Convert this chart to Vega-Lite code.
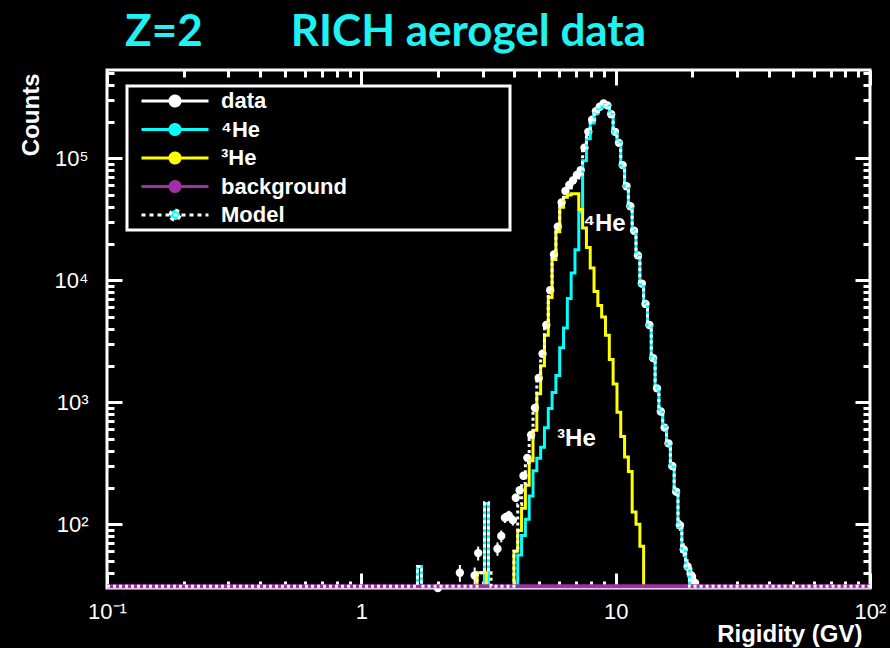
{
  "$schema": "https://vega.github.io/schema/vega-lite/v6.json",
  "width": 763,
  "height": 518,
  "autosize": {"type": "none"},
  "padding": {"left": 107, "top": 70, "right": 20, "bottom": 60},
  "background": "black",
  "title": {
    "text": "Z=2\u2003\u2003\u2002RICH aerogel data",
    "anchor": "start",
    "frame": "group",
    "dx": 18,
    "dy": 52,
    "offset": 24,
    "baseline": "alphabetic",
    "font": "Lato",
    "fontSize": 44,
    "fontWeight": "bold",
    "color": "#1ef2f2"
  },
  "config": {
    "view": {"stroke": "white", "strokeWidth": 3},
    "font": "Liberation Sans",
    "legend": {"strokeWidth": 3}
  },
  "datasets": {
    "he4": [
      {"g": 1, "R": 1.662, "C": 1}, {"g": 1, "R": 1.662, "C": 45}, {"g": 1, "R": 1.723, "C": 1},
      {"g": 2, "R": 3.05, "C": 1}, {"g": 2, "R": 3.05, "C": 148}, {"g": 2, "R": 3.16, "C": 1},
      {"g": 3, "R": 4.121, "C": 1}, {"g": 3, "R": 4.121, "C": 56}, {"g": 3, "R": 4.266, "C": 81},
      {"g": 3, "R": 4.416, "C": 110}, {"g": 3, "R": 4.571, "C": 170}, {"g": 3, "R": 4.732, "C": 275},
      {"g": 3, "R": 4.898, "C": 347}, {"g": 3, "R": 5.07, "C": 427}, {"g": 3, "R": 5.248, "C": 617},
      {"g": 3, "R": 5.433, "C": 891}, {"g": 3, "R": 5.623, "C": 1200}, {"g": 3, "R": 5.821, "C": 1660},
      {"g": 3, "R": 6.026, "C": 2800}, {"g": 3, "R": 6.237, "C": 4070}, {"g": 3, "R": 6.457, "C": 7100},
      {"g": 3, "R": 6.683, "C": 11500}, {"g": 3, "R": 6.918, "C": 17800}, {"g": 3, "R": 7.161, "C": 36300},
      {"g": 3, "R": 7.413, "C": 95500}, {"g": 3, "R": 7.674, "C": 145000}, {"g": 3, "R": 7.943, "C": 195000},
      {"g": 3, "R": 8.222, "C": 234000}, {"g": 3, "R": 8.511, "C": 257000}, {"g": 3, "R": 8.81, "C": 275000},
      {"g": 3, "R": 9.12, "C": 269000}, {"g": 3, "R": 9.441, "C": 229000}, {"g": 3, "R": 9.772, "C": 162000},
      {"g": 3, "R": 10.12, "C": 135000}, {"g": 3, "R": 10.47, "C": 87000}, {"g": 3, "R": 10.84, "C": 59000},
      {"g": 3, "R": 11.22, "C": 40000}, {"g": 3, "R": 11.61, "C": 25700}, {"g": 3, "R": 12.02, "C": 15800},
      {"g": 3, "R": 12.45, "C": 9300}, {"g": 3, "R": 12.88, "C": 6500}, {"g": 3, "R": 13.34, "C": 4270},
      {"g": 3, "R": 13.8, "C": 2290}, {"g": 3, "R": 14.29, "C": 1320}, {"g": 3, "R": 14.79, "C": 830},
      {"g": 3, "R": 15.31, "C": 630}, {"g": 3, "R": 15.85, "C": 457}, {"g": 3, "R": 16.41, "C": 295},
      {"g": 3, "R": 16.98, "C": 190}, {"g": 3, "R": 17.58, "C": 95}, {"g": 3, "R": 18.2, "C": 60},
      {"g": 3, "R": 18.84, "C": 44}, {"g": 3, "R": 19.5, "C": 1}
    ],
    "he3": [
      {"g": 1, "R": 2.85, "C": 1}, {"g": 1, "R": 2.85, "C": 40}, {"g": 1, "R": 3.1, "C": 1},
      {"g": 2, "R": 3.981, "C": 1}, {"g": 2, "R": 3.981, "C": 60}, {"g": 2, "R": 4.121, "C": 89},
      {"g": 2, "R": 4.266, "C": 135}, {"g": 2, "R": 4.416, "C": 209}, {"g": 2, "R": 4.571, "C": 331},
      {"g": 2, "R": 4.732, "C": 589}, {"g": 2, "R": 4.898, "C": 1175}, {"g": 2, "R": 5.07, "C": 1995},
      {"g": 2, "R": 5.248, "C": 3550}, {"g": 2, "R": 5.433, "C": 7240}, {"g": 2, "R": 5.623, "C": 14800},
      {"g": 2, "R": 5.821, "C": 25000}, {"g": 2, "R": 6.026, "C": 39800}, {"g": 2, "R": 6.237, "C": 47900},
      {"g": 2, "R": 6.457, "C": 50100}, {"g": 2, "R": 6.683, "C": 51300}, {"g": 2, "R": 6.918, "C": 51300},
      {"g": 2, "R": 7.161, "C": 38000}, {"g": 2, "R": 7.413, "C": 26900}, {"g": 2, "R": 7.674, "C": 18600},
      {"g": 2, "R": 7.943, "C": 12600}, {"g": 2, "R": 8.222, "C": 8100}, {"g": 2, "R": 8.511, "C": 6200},
      {"g": 2, "R": 8.81, "C": 5000}, {"g": 2, "R": 9.12, "C": 3550}, {"g": 2, "R": 9.441, "C": 2240},
      {"g": 2, "R": 9.772, "C": 1410}, {"g": 2, "R": 10.12, "C": 830}, {"g": 2, "R": 10.47, "C": 525},
      {"g": 2, "R": 10.84, "C": 355}, {"g": 2, "R": 11.22, "C": 270}, {"g": 2, "R": 11.61, "C": 126},
      {"g": 2, "R": 12.02, "C": 100}, {"g": 2, "R": 12.45, "C": 66}, {"g": 2, "R": 12.88, "C": 1}
    ],
    "bg": [
      {"R": 0.1, "C": 31}, {"R": 100, "C": 31}
    ],
    "model": [
      {"R": 0.1, "C": 31}, {"R": 1.662, "C": 45}, {"R": 1.723, "C": 31}, {"R": 2.85, "C": 40},
      {"R": 3.05, "C": 150}, {"R": 3.16, "C": 40}, {"R": 3.236, "C": 31}, {"R": 3.981, "C": 60}, {"R": 4.121, "C": 145},
      {"R": 4.266, "C": 216}, {"R": 4.416, "C": 319}, {"R": 4.571, "C": 501}, {"R": 4.732, "C": 864},
      {"R": 4.898, "C": 1522}, {"R": 5.07, "C": 2422}, {"R": 5.248, "C": 4167}, {"R": 5.433, "C": 8131},
      {"R": 5.623, "C": 16000}, {"R": 5.821, "C": 26660}, {"R": 6.026, "C": 42600}, {"R": 6.237, "C": 51970},
      {"R": 6.457, "C": 57200}, {"R": 6.683, "C": 62800}, {"R": 6.918, "C": 69100}, {"R": 7.161, "C": 74300},
      {"R": 7.413, "C": 122400}, {"R": 7.674, "C": 163600}, {"R": 7.943, "C": 207600}, {"R": 8.222, "C": 242100},
      {"R": 8.511, "C": 263200}, {"R": 8.81, "C": 280000}, {"R": 9.12, "C": 272550}, {"R": 9.441, "C": 231240},
      {"R": 9.772, "C": 163410}, {"R": 10.12, "C": 135830}, {"R": 10.47, "C": 87525}, {"R": 10.84, "C": 59355},
      {"R": 11.22, "C": 40270}, {"R": 11.61, "C": 25826}, {"R": 12.02, "C": 15900}, {"R": 12.45, "C": 9366},
      {"R": 12.88, "C": 6500}, {"R": 13.34, "C": 4270}, {"R": 13.8, "C": 2290}, {"R": 14.29, "C": 1320},
      {"R": 14.79, "C": 830}, {"R": 15.31, "C": 630}, {"R": 15.85, "C": 457}, {"R": 16.41, "C": 295},
      {"R": 16.98, "C": 190}, {"R": 17.58, "C": 95}, {"R": 18.2, "C": 60}, {"R": 18.84, "C": 44},
      {"R": 19.5, "C": 31}, {"R": 100, "C": 31}
    ],
    "pts": [
      {"R": 2.0, "C": 25, "lo": 20, "hi": 30}, {"R": 2.44, "C": 40, "lo": 33.7, "hi": 46.3},
      {"R": 2.79, "C": 38, "lo": 31.8, "hi": 44.2}, {"R": 2.88, "C": 58, "lo": 50.4, "hi": 65.6},
      {"R": 3.43, "C": 63, "lo": 55.1, "hi": 70.9}, {"R": 3.55, "C": 80, "lo": 71.1, "hi": 88.9},
      {"R": 3.67, "C": 113, "lo": 102.4, "hi": 123.6}, {"R": 3.8, "C": 118, "lo": 107.1, "hi": 128.9},
      {"R": 3.94, "C": 108, "lo": 97.6, "hi": 118.4}, {"R": 4.05, "C": 165, "lo": 152.2, "hi": 177.8},
      {"R": 4.193, "C": 190, "lo": 176.2, "hi": 203.8}, {"R": 4.34, "C": 250, "lo": 234.2, "hi": 265.8},
      {"R": 4.493, "C": 350, "lo": 331.3, "hi": 368.7}, {"R": 4.651, "C": 540, "lo": 516.8, "hi": 563.2},
      {"R": 4.814, "C": 900, "lo": 870, "hi": 930}, {"R": 4.983, "C": 1580}, {"R": 5.158, "C": 2500},
      {"R": 5.339, "C": 4300}, {"R": 5.528, "C": 8300}, {"R": 5.721, "C": 16300}, {"R": 5.922, "C": 27500},
      {"R": 6.131, "C": 43500}, {"R": 6.346, "C": 54000}, {"R": 6.569, "C": 60500}, {"R": 6.799, "C": 66000},
      {"R": 7.039, "C": 73000}, {"R": 7.286, "C": 80000}, {"R": 7.542, "C": 122000}, {"R": 7.808, "C": 165000},
      {"R": 8.081, "C": 207000}, {"R": 8.365, "C": 243000}, {"R": 8.659, "C": 265000}, {"R": 8.963, "C": 282000},
      {"R": 9.279, "C": 272000}, {"R": 9.605, "C": 230000}, {"R": 9.942, "C": 165000}, {"R": 10.3, "C": 134000},
      {"R": 10.65, "C": 88000}, {"R": 11.03, "C": 59000}, {"R": 11.42, "C": 40500}, {"R": 11.81, "C": 25500},
      {"R": 12.23, "C": 16000}, {"R": 12.67, "C": 9400}, {"R": 13.1, "C": 6400}, {"R": 13.57, "C": 4300},
      {"R": 14.04, "C": 2300}, {"R": 14.54, "C": 1300}, {"R": 15.05, "C": 840, "lo": 811, "hi": 869},
      {"R": 15.58, "C": 620, "lo": 595, "hi": 645}, {"R": 16.13, "C": 460, "lo": 438.6, "hi": 481.4},
      {"R": 16.7, "C": 300, "lo": 282.7, "hi": 317.3}, {"R": 17.28, "C": 185, "lo": 171.4, "hi": 198.6},
      {"R": 17.89, "C": 98, "lo": 88.1, "hi": 107.9}, {"R": 18.52, "C": 62, "lo": 54.1, "hi": 69.9},
      {"R": 19.17, "C": 45, "lo": 38.3, "hi": 51.7}, {"R": 19.84, "C": 38, "lo": 31.8, "hi": 44.2},
      {"R": 20.53, "C": 33, "lo": 27.3, "hi": 38.7}
    ],
    "lab": [
      {"R": 7.45, "C": 25400, "t": "⁴He"},
      {"R": 5.885, "C": 439, "t": "³He"}
    ]
  },
  "resolve": {"axis": {"x": "independent", "y": "independent"}},
  "layer": [
    {
      "data": {"name": "pts"},
      "transform": [{"filter": "isValid(datum.lo)"}],
      "mark": {"type": "rule", "strokeWidth": 2},
      "encoding": {
        "x": {"field": "R", "type": "quantitative", "scale": {"type": "log", "domain": [0.1, 100], "nice": false}, "axis": null},
        "y": {"field": "lo", "type": "quantitative", "scale": {"type": "log", "domain": [30, 530000], "nice": false, "clamp": true}, "axis": null},
        "y2": {"field": "hi"},
        "color": {
          "datum": "data",
          "scale": {"domain": ["data", "⁴He", "³He", "background", "Model"], "range": ["#ffffff", "#00ffff", "#ffff00", "#a12fa8", "#ffffff"]},
          "legend": {
            "orient": "none", "legendX": 20, "legendY": 16,
            "title": "\u00a0", "titleOrient": "right", "titlePadding": 159, "titleFontSize": 10,
            "symbolType": "M-1,0L1,0M-0.15,0A0.15,0.15,0,1,1,0.15,0A0.15,0.15,0,1,1,-0.15,0Z",
            "symbolSize": 4489, "symbolStrokeWidth": 3, "symbolOffset": 9,
            "clipHeight": 22, "rowPadding": 6.5,
            "labelOffset": 11, "labelFont": "Liberation Sans", "labelFontSize": 22, "labelFontWeight": "bold", "labelColor": "white", "labelLimit": 400,
            "padding": 4, "fillColor": "black", "strokeColor": "white",
            "encode": {
              "legend": {"update": {"strokeWidth": {"value": 3}}},
              "symbols": {"update": {
                "fill": {"signal": "datum.value === 'Model' ? '#00ffff' : scale('color', datum.value)"},
                "stroke": {"signal": "scale('color', datum.value)"},
                "strokeDash": {"signal": "datum.value === 'Model' ? [4,4] : [1,0]"},
                "opacity": {"value": 1}
              }}
            }
          }
        }
      }
    },
    {
      "data": {"name": "pts"},
      "mark": {"type": "circle", "size": 70, "opacity": 1, "color": "white"},
      "encoding": {
        "x": {"field": "R", "type": "quantitative", "scale": {"type": "log", "domain": [0.1, 100], "nice": false}, "axis": null},
        "y": {"field": "C", "type": "quantitative", "scale": {"type": "log", "domain": [30, 530000], "nice": false, "clamp": true}, "axis": null}
      }
    },
    {
      "data": {"name": "he4"},
      "mark": {"type": "line", "interpolate": "step-after", "strokeWidth": 3},
      "encoding": {
        "x": {
          "field": "R", "type": "quantitative", "scale": {"type": "log", "domain": [0.1, 100], "nice": false},
          "axis": {
            "orient": "bottom", "domain": false, "grid": false,
            "values": [0.1, 0.2, 0.3, 0.4, 0.5, 0.6, 0.7, 0.8, 0.9, 1, 2, 3, 4, 5, 6, 7, 8, 9, 10, 20, 30, 40, 50, 60, 70, 80, 90, 100],
            "labelExpr": "datum.value == 0.1 ? '10⁻¹' : datum.value == 1 ? '1' : datum.value == 10 ? '10' : datum.value == 100 ? '10²' : ''",
            "tickSize": {"condition": {"test": "datum.value == 0.1 || datum.value == 1 || datum.value == 10 || datum.value == 100", "value": -15}, "value": -7},
            "tickColor": "white", "tickWidth": 3,
            "labelColor": "white", "labelFont": "Liberation Sans", "labelFontSize": 22, "labelPadding": 28,
            "labelOverlap": false, "labelFlush": false, "labelBound": false,
            "title": "Rigidity (GV)", "titleColor": "white", "titleFont": "Liberation Sans", "titleFontSize": 24, "titleFontWeight": "bold",
            "titleAlign": "right", "titleBaseline": "alphabetic", "titleX": 755, "titleY": 53, "titleAngle": 0
          }
        },
        "y": {
          "field": "C", "type": "quantitative", "scale": {"type": "log", "domain": [30, 530000], "nice": false, "clamp": true},
          "axis": {
            "orient": "left", "domain": false, "grid": false,
            "values": [40, 50, 60, 70, 80, 90, 100, 200, 300, 400, 500, 600, 700, 800, 900, 1000, 2000, 3000, 4000, 5000, 6000, 7000, 8000, 9000, 10000, 20000, 30000, 40000, 50000, 60000, 70000, 80000, 90000, 100000, 200000, 300000, 400000, 500000],
            "labelExpr": "datum.value == 100 ? '10²' : datum.value == 1000 ? '10³' : datum.value == 10000 ? '10⁴' : datum.value == 100000 ? '10⁵' : ''",
            "tickSize": {"condition": {"test": "datum.value == 100 || datum.value == 1000 || datum.value == 10000 || datum.value == 100000", "value": -15}, "value": -7},
            "tickColor": "white", "tickWidth": 3,
            "labelColor": "white", "labelFont": "Liberation Sans", "labelFontSize": 22, "labelPadding": 34,
            "labelOverlap": false, "labelFlush": false, "labelBound": false,
            "title": "Counts", "titleColor": "white", "titleFont": "Liberation Sans", "titleFontSize": 24, "titleFontWeight": "bold",
            "titleAlign": "right", "titleBaseline": "alphabetic", "titleAngle": 270, "titleX": -69, "titleY": 3
          }
        },
        "detail": {"field": "g"},
        "order": {"value": null},
        "color": {
          "datum": "⁴He",
          "scale": {"domain": ["data", "⁴He", "³He", "background", "Model"], "range": ["#ffffff", "#00ffff", "#ffff00", "#a12fa8", "#ffffff"]}
        }
      }
    },
    {
      "data": {"name": "he3"},
      "mark": {"type": "line", "interpolate": "step-after", "strokeWidth": 3},
      "encoding": {
        "x": {"field": "R", "type": "quantitative", "scale": {"type": "log", "domain": [0.1, 100], "nice": false}, "axis": null},
        "y": {"field": "C", "type": "quantitative", "scale": {"type": "log", "domain": [30, 530000], "nice": false, "clamp": true}, "axis": null},
        "detail": {"field": "g"},
        "order": {"value": null},
        "color": {"datum": "³He", "scale": {"domain": ["data", "⁴He", "³He", "background", "Model"], "range": ["#ffffff", "#00ffff", "#ffff00", "#a12fa8", "#ffffff"]}}
      }
    },
    {
      "data": {"name": "bg"},
      "mark": {"type": "line", "strokeWidth": 4},
      "encoding": {
        "x": {"field": "R", "type": "quantitative", "scale": {"type": "log", "domain": [0.1, 100], "nice": false}, "axis": null},
        "y": {"field": "C", "type": "quantitative", "scale": {"type": "log", "domain": [30, 530000], "nice": false, "clamp": true}, "axis": null},
        "color": {"datum": "background", "scale": {"domain": ["data", "⁴He", "³He", "background", "Model"], "range": ["#ffffff", "#00ffff", "#ffff00", "#a12fa8", "#ffffff"]}}
      }
    },
    {
      "data": {"name": "model"},
      "mark": {"type": "line", "interpolate": "step-after", "strokeWidth": 3, "strokeDash": [3, 3]},
      "encoding": {
        "x": {
          "field": "R", "type": "quantitative", "scale": {"type": "log", "domain": [0.1, 100], "nice": false},
          "axis": {
            "orient": "top", "domain": false, "grid": false, "labels": false, "title": null,
            "values": [0.1, 0.2, 0.3, 0.4, 0.5, 0.6, 0.7, 0.8, 0.9, 1, 2, 3, 4, 5, 6, 7, 8, 9, 10, 20, 30, 40, 50, 60, 70, 80, 90, 100],
            "tickSize": {"condition": {"test": "datum.value == 0.1 || datum.value == 1 || datum.value == 10 || datum.value == 100", "value": -15}, "value": -7},
            "tickColor": "white", "tickWidth": 3
          }
        },
        "y": {
          "field": "C", "type": "quantitative", "scale": {"type": "log", "domain": [30, 530000], "nice": false, "clamp": true},
          "axis": {
            "orient": "right", "domain": false, "grid": false, "labels": false, "title": null,
            "values": [40, 50, 60, 70, 80, 90, 100, 200, 300, 400, 500, 600, 700, 800, 900, 1000, 2000, 3000, 4000, 5000, 6000, 7000, 8000, 9000, 10000, 20000, 30000, 40000, 50000, 60000, 70000, 80000, 90000, 100000, 200000, 300000, 400000, 500000],
            "tickSize": {"condition": {"test": "datum.value == 100 || datum.value == 1000 || datum.value == 10000 || datum.value == 100000", "value": -15}, "value": -7},
            "tickColor": "white", "tickWidth": 3
          }
        },
        "order": {"value": null},
        "color": {"datum": "Model", "scale": {"domain": ["data", "⁴He", "³He", "background", "Model"], "range": ["#ffffff", "#00ffff", "#ffff00", "#a12fa8", "#ffffff"]}}
      }
    },
    {
      "data": {"name": "lab"},
      "mark": {"type": "text", "align": "left", "baseline": "alphabetic", "font": "Liberation Sans", "fontSize": 24, "fontWeight": "bold", "color": "white"},
      "encoding": {
        "x": {"field": "R", "type": "quantitative", "scale": {"type": "log", "domain": [0.1, 100], "nice": false}, "axis": null},
        "y": {"field": "C", "type": "quantitative", "scale": {"type": "log", "domain": [30, 530000], "nice": false, "clamp": true}, "axis": null},
        "text": {"field": "t"}
      }
    }
  ]
}
